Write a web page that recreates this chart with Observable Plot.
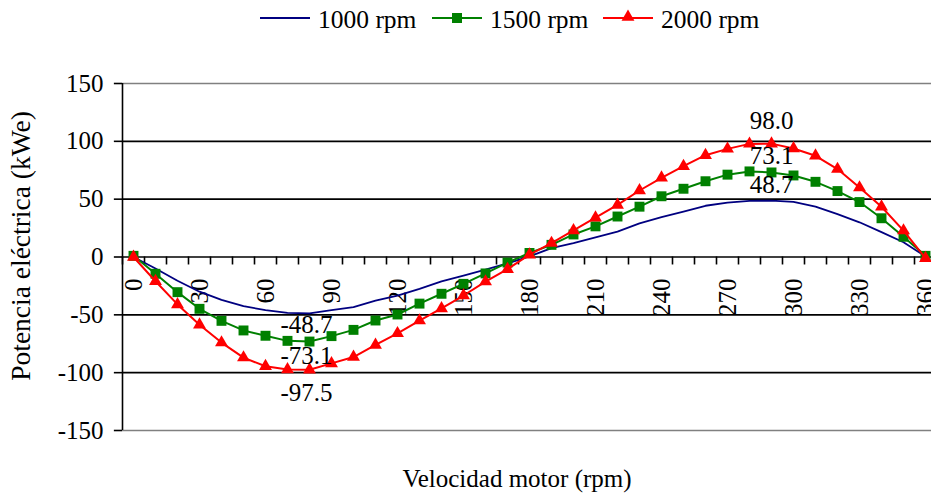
<!DOCTYPE html>
<html>
<head>
<meta charset="utf-8">
<script src="https://cdn.jsdelivr.net/npm/d3@7"></script>
<script src="https://cdn.jsdelivr.net/npm/@observablehq/plot@0.6"></script>
<style>
  html, body { margin: 0; padding: 0; background: white; overflow: hidden; }
  #chart { position: relative; width: 931px; height: 494px; font-family: "Liberation Serif", "Times New Roman", serif; }
  #chart svg { display: block; overflow: hidden; }
</style>
</head>
<body>
<div id="chart"></div>
<script>
// ---- data ----
const angles = [0,10,20,30,40,50,60,70,80,90,100,110,120,130,140,150,160,170,180,190,200,210,220,230,240,250,260,270,280,290,300,310,320,330,340,350,360];
const rpm1000 = [0,-10,-20.5,-30,-37,-42.5,-46,-48.3,-48.7,-46,-43.4,-37.8,-33.3,-27.5,-21,-16,-11,-5.5,0.5,
                 7.6,12,17,22,29,34.4,39.3,44.3,47,48.5,48.7,47.6,43.5,37,30,21.5,12.8,0.5];
const rpm1500 = [1,-14.5,-30.4,-44.8,-55.2,-63.5,-68.1,-72.5,-73.1,-68.4,-63,-54.9,-49.7,-40.3,-31.8,-23.2,-14.2,-4.8,3.5,
                 10.5,19.5,26.5,35,43.5,52.5,59,65.5,71.2,74,73.1,70.5,65,57,47.5,33.5,17.5,1];
const rpm2000 = [0,-21,-41,-58.5,-74,-87,-94.5,-97.3,-97.5,-92,-86.5,-76,-66,-55,-44.5,-33.3,-21.3,-10.5,2,
                 12,23,34,45,57.5,68.5,78.5,88,93.5,97.8,98,93.8,87.5,76,60,43.4,22.8,-1];
const seriesNames = ["1000 rpm", "1500 rpm", "2000 rpm"];
const seriesColors = ["#000080", "#008000", "#FF0000"];
const yTicks = [-150,-100,-50,0,50,100,150];
const xTickLabels = [0,30,60,90,120,150,180,210,240,270,300,330,360];
const xTickMarks = [-5,5,15,25,35,45,55,65,75,85,95,105,115,125,135,145,155,165,175,185,195,205,215,225,235,245,255,265,275,285,295,305,315,325,335,345,355,365];
const labelAngles = [80, 290];
const xTitle = "Velocidad motor (rpm)";
const yTitle = "Potencia eléctrica (kWe)";

// ---- build ----
const FONT = "Liberation Serif, Times New Roman, serif";
const seriesValues = [rpm1000, rpm1500, rpm2000];
const tables = seriesValues.map((vals, s) => angles.map((a, i) => ({a, v: vals[i], s})));
// label offsets (px) below / above the point, per series
const belowDy = [12, 14, 23];
const aboveDy = [-16, -16, -23];
const labelMarks = [];
tables.forEach((t, s) => {
  const pts = t.filter(r => labelAngles.includes(r.a));
  const neg = pts.filter(r => r.v < 0), pos = pts.filter(r => r.v >= 0);
  labelMarks.push(Plot.text(neg, {x: "a", y: "v", text: d => d.v.toFixed(1), dy: belowDy[s], dx: -3, lineAnchor: "middle", fill: "black"}));
  labelMarks.push(Plot.text(pos, {x: "a", y: "v", text: d => d.v.toFixed(1), dy: aboveDy[s], lineAnchor: "middle", fill: "black"}));
});

// legend
const legend = d3.create("svg").attr("width", 931).attr("height", 40);
const legendX = [260, 432, 603];
seriesNames.forEach((name, i) => {
  const g = legend.append("g").attr("transform", `translate(${legendX[i]},18)`);
  g.append("line").attr("x1", 0).attr("x2", 50).attr("y1", 0).attr("y2", 0)
    .attr("stroke", seriesColors[i]).attr("stroke-width", 2);
  if (i === 1) g.append("rect").attr("x", 20).attr("y", -5).attr("width", 10).attr("height", 10).attr("fill", seriesColors[i]);
  if (i === 2) g.append("path").attr("transform", "translate(25,-1)").attr("d", d3.symbol(d3.symbolTriangle, Math.PI * 4.8 * 4.8)()).attr("fill", seriesColors[i]);
  g.append("text").attr("x", 58).attr("y", 10).attr("font-family", FONT).attr("font-size", 25.5).attr("fill", "black").text(name);
});
document.getElementById("chart").append(legend.node());

const plot = Plot.plot({
  width: 931,
  height: 454,
  marginTop: 43,
  marginBottom: 64,
  marginLeft: 122,
  marginRight: 0,
  x: {domain: [-5, 365], range: [122, 936], axis: null},
  y: {domain: [-150, 150], axis: null},
  style: {fontFamily: FONT, fontSize: "25px", background: "white", color: "black"},
  marks: [
    Plot.ruleY(yTicks.filter(d => Math.abs(d) < 150), {stroke: "black", strokeWidth: 1.6}),
    Plot.ruleY(yTicks.filter(d => Math.abs(d) === 150), {stroke: "#808080", strokeWidth: 1.6}),
    Plot.ruleX([-5], {y1: -150, y2: 150, stroke: "black", strokeWidth: 1.6}),
    Plot.ruleY(yTicks, {x1: -8.7, x2: -5, stroke: "black", strokeWidth: 1.6}),
    Plot.ruleX(xTickMarks, {y1: 0, y2: -6.9, stroke: "black", strokeWidth: 1.6}),
    Plot.text(yTicks, {x: -5, y: d => d, text: d => String(d), textAnchor: "end", lineAnchor: "middle", dx: -19, fill: "black"}),
    Plot.text(xTickLabels, {x: d => d, y: 0, text: d => String(d), rotate: -90, textAnchor: "end", lineAnchor: "middle", dy: 21.5, fill: "black"}),
    Plot.line(tables[0], {x: "a", y: "v", stroke: seriesColors[0], strokeWidth: 1.8}),
    Plot.line(tables[1], {x: "a", y: "v", stroke: seriesColors[1], strokeWidth: 2}),
    Plot.dot(tables[1], {x: "a", y: "v", symbol: "square", fill: seriesColors[1], r: 5.6}),
    Plot.line(tables[2], {x: "a", y: "v", stroke: seriesColors[2], strokeWidth: 2}),
    Plot.dot(tables[2], {x: "a", y: "v", symbol: "triangle", fill: seriesColors[2], r: 4.8}),
    ...labelMarks,
    Plot.text([xTitle], {frameAnchor: "bottom", dy: 48, dx: -10, lineAnchor: "middle", fill: "black"}),
    Plot.text([yTitle], {frameAnchor: "left", rotate: -90, dx: -101, dy: -11, textAnchor: "middle", lineAnchor: "middle", fill: "black", fontSize: 27.5})
  ]
});
document.getElementById("chart").append(plot);
</script>
</body>
</html>
